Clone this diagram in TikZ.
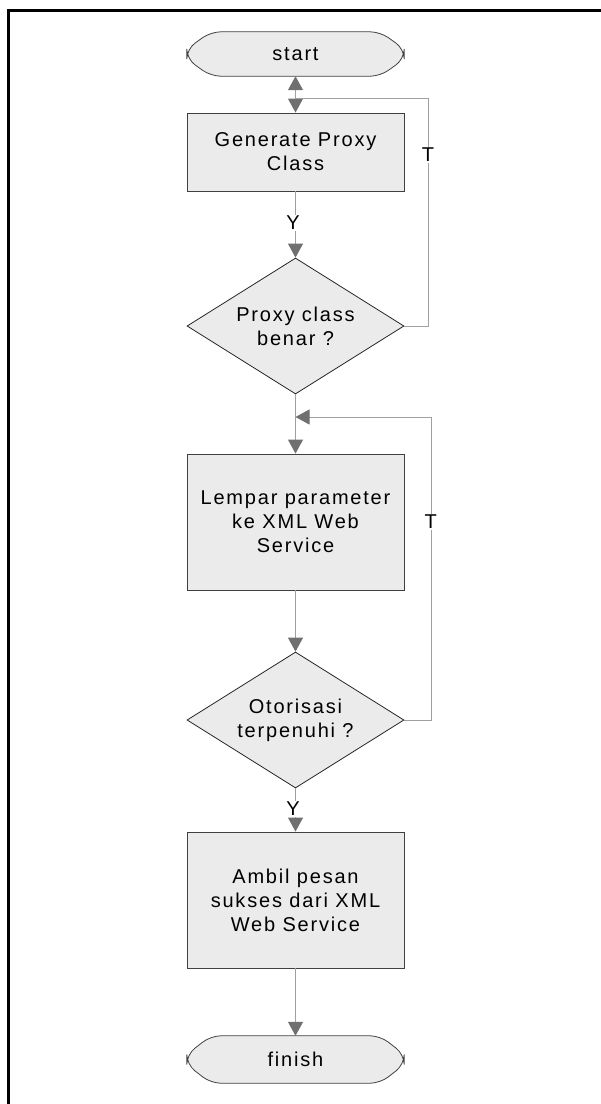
\documentclass[tikz,border=0pt]{standalone}
\usepackage{fontspec}
\setmainfont{Liberation Sans}[LetterSpace=9]
\usetikzlibrary{arrows.meta,shapes.geometric,backgrounds}
\definecolor{boxfill}{HTML}{EBEBEB}
\definecolor{linegray}{HTML}{A0A0A0}
\definecolor{tipgray}{HTML}{707070}
\definecolor{edgegray}{HTML}{404040}
\newcommand{\flowfont}{\fontsize{20}{24}\selectfont}
\begin{document}
\begin{tikzpicture}[x=1pt,y=-1pt,
  every node/.style={font=\flowfont, text=black},
  procbox/.style={rectangle, draw=edgegray, fill=boxfill, line width=0.9pt, minimum width=217pt, align=center, inner sep=0pt},
  decbox/.style={diamond, draw=black!85, fill=boxfill, line width=0.8pt, minimum width=217pt, minimum height=136pt, aspect=1.6, align=center, inner sep=0pt},
  termbox/.style={rectangle, minimum width=217pt, inner sep=0pt},
  termline/.style={draw=edgegray, fill=boxfill, line width=0.8pt, rounded corners=10pt},
  conn/.style={draw=linegray, line width=1pt, -{Triangle[length=14pt,width=15pt,color=tipgray]}},
  lbl/.style={fill=white, inner sep=1.5pt}
]
\useasboundingbox (0,0) rectangle (601,1104);
\draw[line width=3pt] (8,1104) -- (8,10.5) -- (601,10.5);

\node[termbox, minimum height=44pt] (start) at (295.5,54) {start};
\node[procbox, minimum height=78pt] (g1) at (295.5,152) {Generate Proxy\\Class};
\node[decbox] (d1) at (295.5,326) {Proxy class\\benar ?};
\node[procbox, minimum height=136pt] (b2) at (295.5,522) {Lempar parameter\\ke XML Web\\Service};
\node[decbox] (d2) at (295.5,720) {Otorisasi\\terpenuhi ?};
\node[procbox, minimum height=136pt] (b3) at (295.5,900) {Ambil pesan\\sukses dari XML\\Web Service};
\node[termbox, minimum height=47pt] (finish) at (295.5,1059.5) {finish};

\begin{scope}[on background layer]
\foreach \n in {start,finish} {
  \path[termline] ([xshift=24pt]\n.north west) -- ([xshift=-24pt]\n.north east) -- ([yshift=5pt]\n.east) -- ([yshift=-5pt]\n.east) -- ([xshift=-24pt]\n.south east) -- ([xshift=24pt]\n.south west) -- ([yshift=-5pt]\n.west) -- ([yshift=5pt]\n.west) -- cycle;
}
\end{scope}

\coordinate (j1) at (295.5,98);
\coordinate (j2) at (295.5,417);

\draw[conn] (start) -- (g1);
\draw[conn] (d1.east) -- ++(24,0) |- (j1) -- (start);
\draw[conn] (g1) -- (d1);
\draw[conn] (d1) -- (b2);
\draw[conn] (d2.east) -- ++(26.7,0) |- (j2);
\draw[conn] (b2) -- (d2);
\draw[conn] (d2) -- (b3);
\draw[conn] (b3) -- (finish);

\node[lbl] (ty1) at (293,223) {Y};
\node[lbl] (tt1) at (428,155) {T};
\node[lbl] (tt2) at (430.7,522) {T};
\node[lbl] (ty2) at (293,809) {Y};
\end{tikzpicture}
\end{document}
